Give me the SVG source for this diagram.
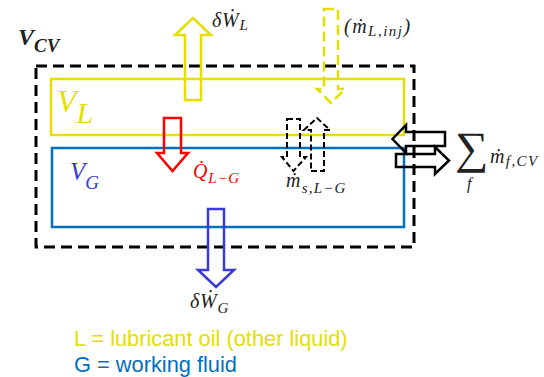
<svg xmlns="http://www.w3.org/2000/svg" width="544" height="377" viewBox="0 0 544 377">
<style>
.m{font-family:"Liberation Serif","DejaVu Serif",serif;font-style:italic;font-size:20px;letter-spacing:0.8px;fill:#222;}
.s{font-size:15px;}
.lg{font-family:"Liberation Sans",Arial,sans-serif;font-size:21.8px;}
.harrow{fill:none;stroke-width:2.5;stroke-linejoin:miter;}
</style>
<rect width="544" height="377" fill="#ffffff"/>
<g id="control-volume">
<rect x="36" y="66" width="378" height="181" fill="none" stroke="#000" stroke-width="3" stroke-dasharray="11 6"/>
<text class="m" x="18" y="45" style="font-size:24px;letter-spacing:0" font-weight="bold" fill="#000">V<tspan font-size="19" dy="7">CV</tspan></text>
</g>
<g id="VL">
<rect x="51" y="79" width="353" height="56" fill="none" stroke="#E3E000" stroke-width="2.5"/>
<text class="m" x="57" y="112" style="font-size:32px;letter-spacing:0;fill:#E3E000">V<tspan font-size="30" dy="11">L</tspan></text>
</g>
<g id="VG">
<rect x="52" y="148" width="352" height="79" fill="none" stroke="#0070C0" stroke-width="2.5"/>
<text class="m" x="70" y="180" style="font-size:25px;letter-spacing:0;fill:#3A3AD0">V<tspan font-size="19" dy="9">G</tspan></text>
</g>
<g id="connectors">
<polygon class="harrow" stroke="#E3E000" points="185,100 185,35 175,35 193,18 211,35 201,35 201,100"/>
<polygon class="harrow" stroke="#FF0000" points="164,118 181,118 181,153 188,153 172.5,171 157,153 164,153"/>
<polygon class="harrow" stroke="#3A3AD0" points="208,209 224,209 224,270 234,270 216,287 198,270 208,270"/>
<polygon class="harrow" stroke="#E3E000" stroke-dasharray="10 5" points="324,9 338,9 338,89 345,89 331,103 317,89 324,89"/>
<polygon fill="none" stroke="#000" stroke-width="2" stroke-dasharray="6 3" points="287,119 300,119 300,157 306,157 293.5,171 282,157 287,157"/>
<polygon fill="none" stroke="#000" stroke-width="2" stroke-dasharray="6 3" points="311,171 324,171 324,130 330,130 317,118 304,130 311,130"/>
<polygon class="harrow" stroke="#000" points="445,132 406,132 406,125 392.5,139 406,153 406,146 445,146"/>
<polygon class="harrow" stroke="#000" points="396,154 435,154 435,147 449,160.5 435,174 435,167 396,167"/>
</g>
<g id="labels">
<text class="m" x="212" y="27">δW&#x307;<tspan class="s" dy="3">L</tspan></text>
<text class="m" x="344" y="33" style="letter-spacing:1.5px">(m&#x307;<tspan class="s" dy="3">L,inj</tspan><tspan dy="-3">)</tspan></text>
<text class="m" x="193" y="178" style="fill:#FF0000">Q&#x307;<tspan class="s" dy="5">L−G</tspan></text>
<text class="m" x="286" y="187" style="letter-spacing:1.2px">m&#x307;<tspan class="s" dy="6">s,L−G</tspan></text>
<text class="m" x="190" y="308">δW&#x307;<tspan class="s" dy="5">G</tspan></text>
<text x="0" y="0" transform="translate(455 163) scale(1.04 1)" font-family="Liberation Serif,DejaVu Serif,serif" font-size="45" fill="#222">∑</text>
<text class="m" x="467" y="189" style="font-size:16px">f</text>
<text class="m" x="490" y="163" style="letter-spacing:1.4px">m&#x307;<tspan class="s" dy="3">f,CV</tspan></text>
</g>
<g id="legend">
<text class="lg" x="74" y="346" fill="#E3E000">L = lubricant oil (other liquid)</text>
<text class="lg" x="74" y="372" fill="#0070C0">G = working fluid</text>
</g>
</svg>
